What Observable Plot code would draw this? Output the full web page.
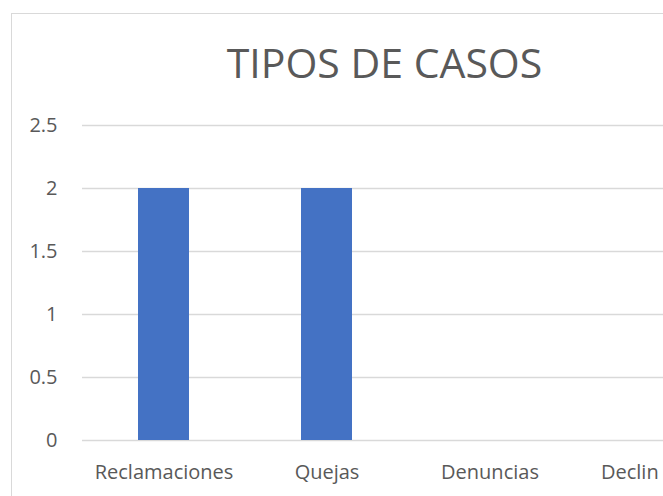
<!DOCTYPE html>
<html>
<head>
<meta charset="utf-8">
<script src="https://cdn.jsdelivr.net/npm/d3@7"></script>
<script src="https://cdn.jsdelivr.net/npm/@observablehq/plot@0.6"></script>
<style>
  html, body { margin: 0; padding: 0; background: #fff; }
  body { width: 663px; height: 496px; overflow: hidden; position: relative; font-family: "Open Sans", sans-serif; }
  #frame { position: absolute; left: 11px; top: 13px; width: 900px; height: 700px; border: 1.3px solid #d9d9d9; box-sizing: border-box; }
  #title { position: absolute; left: 0; width: 769px; top: 38px; text-align: center; font-size: 41px; color: #595959; font-family: "Open Sans", sans-serif; line-height: 1.2; white-space: nowrap; }
  #chart { position: absolute; left: 0; top: 100px; width: 760px; }
  #chart svg { max-width: none !important; }
</style>
</head>
<body>
<div id="frame"></div>
<div id="title">TIPOS DE CASOS</div>
<div id="chart"></div>
<script>
const title = "TIPOS DE CASOS";
const categories = ["Reclamaciones", "Quejas", "Denuncias", "Declin"];
const values = [2, 2, 0, 0];
const yTicks = [0, 0.5, 1, 1.5, 2, 2.5];

const data = categories.map((c, i) => ({category: c, value: values[i]}));

const plot = Plot.plot({
  width: 760,
  height: 396,
  marginLeft: 82,
  marginRight: 26,
  marginTop: 25,
  marginBottom: 56,
  style: {fontFamily: "Open Sans, sans-serif", fontSize: "20px", color: "#595959", background: "transparent", maxWidth: "none"},
  x: {domain: categories, paddingInner: 0.687, paddingOuter: 0.3435, align: 0.5},
  y: {domain: [0, 2.5]},
  marks: [
    Plot.gridY(yTicks, {stroke: "#d9d9d9", strokeOpacity: 1, strokeWidth: 1.3}),
    Plot.barY(data, {x: "category", y: "value", fill: "#4472c4"}),
    Plot.axisY(yTicks, {tickSize: 0, tickPadding: 25, fill: "#595959", label: null, tickFormat: d => String(d)}),
    Plot.axisX({ticks: categories.slice(0, 3), tickSize: 0, tickPadding: 24, fill: "#595959", label: null}),
    Plot.axisX({ticks: categories.slice(3), tickSize: 0, tickPadding: 24, fill: "#595959", label: null, textAnchor: "start", dx: -52})
  ]
});
plot.style.maxWidth = "none";
document.getElementById("chart").appendChild(plot);
</script>
</body>
</html>
